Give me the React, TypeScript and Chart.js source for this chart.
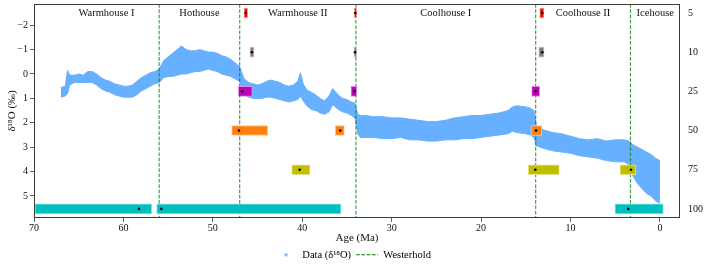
import React, { useEffect, useRef } from 'react';
import { Chart, registerables } from 'chart.js';

Chart.register(...registerables);

// ---- axis ticks / labels ----
const ageTicks = [70, 60, 50, 40, 30, 20, 10, 0];
const d18OTicks = [-2, -1, 0, 1, 2, 3, 4, 5];
const rowLabels = ['5', '10', '25', '50', '75', '100'];

// ---- climate states (Westerhold) ----
const stageNames = ['Warmhouse I', 'Hothouse', 'Warmhouse II', 'Coolhouse I', 'Coolhouse II', 'Icehouse'];
const stageCenters = [61.9, 51.5, 40.5, 23.95, 8.6, 0.53];
const westerhold = [56.0, 47.0, 34.0, 13.9, 3.3];

// ---- δ18O data cloud (read as upper/lower envelope of the point cloud) ----
const envAge = [67.0, 66.5, 66.25, 66.0, 65.5, 65.0, 64.5, 64.0, 63.5, 63.0, 62.5, 62.0, 61.5, 61.0, 60.5, 60.0, 59.5, 59.0, 58.5, 58.0, 57.5, 57.0, 56.5, 56.0, 55.5, 55.0, 54.5, 54.0, 53.5, 53.0, 52.5, 52.0, 51.5, 51.0, 50.5, 50.0, 49.5, 49.0, 48.5, 48.0, 47.5, 47.0, 46.5, 46.0, 45.5, 45.0, 44.5, 44.0, 43.5, 43.0, 42.5, 42.0, 41.5, 41.0, 40.5, 40.2, 39.9, 39.5, 39.0, 38.5, 38.0, 37.5, 37.0, 36.6, 36.0, 35.5, 35.0, 34.5, 34.1, 33.8, 33.5, 33.0, 32.0, 31.0, 30.0, 29.0, 28.0, 27.0, 26.0, 25.0, 24.0, 23.0, 22.0, 21.0, 20.0, 19.0, 18.0, 17.0, 16.5, 16.0, 15.0, 14.5, 14.1, 13.8, 13.0, 12.0, 11.0, 10.0, 9.0, 8.0, 7.0, 6.0, 5.0, 4.0, 3.5, 3.0, 2.5, 2.0, 1.5, 1.0, 0.5, 0.0];
const envTop = [0.55, 0.5, -0.15, 0.05, 0.05, 0.0, 0.05, -0.1, -0.1, 0.0, 0.15, 0.25, 0.3, 0.4, 0.45, 0.5, 0.5, 0.45, 0.3, 0.15, 0.05, -0.05, -0.1, -0.2, -0.55, -0.7, -0.85, -1.0, -1.15, -1.0, -0.95, -0.95, -1.0, -0.95, -0.9, -0.9, -0.85, -0.75, -0.7, -0.6, -0.45, -0.3, 0.2, 0.35, 0.4, 0.45, 0.4, 0.3, 0.25, 0.3, 0.35, 0.45, 0.5, 0.45, 0.3, -0.05, 0.4, 0.65, 0.75, 0.85, 1.0, 1.1, 0.9, 0.6, 0.85, 1.0, 1.05, 1.15, 1.2, 1.65, 1.7, 1.7, 1.75, 1.75, 1.8, 1.8, 1.85, 1.9, 1.95, 1.95, 1.9, 1.8, 1.75, 1.7, 1.7, 1.65, 1.6, 1.5, 1.35, 1.3, 1.35, 1.4, 1.5, 2.15, 2.3, 2.4, 2.45, 2.55, 2.65, 2.7, 2.65, 2.75, 2.7, 2.7, 2.75, 2.9, 3.0, 3.1, 3.2, 3.3, 3.45, 3.55];
const envBottom = [0.95, 0.9, 0.8, 0.45, 0.35, 0.35, 0.35, 0.35, 0.35, 0.45, 0.6, 0.7, 0.75, 0.85, 0.9, 0.95, 0.95, 0.95, 0.85, 0.7, 0.6, 0.5, 0.4, 0.35, 0.15, 0.1, 0.1, 0.05, 0.0, 0.0, -0.05, -0.1, -0.1, -0.15, -0.2, -0.15, -0.1, 0.0, 0.05, 0.1, 0.2, 0.3, 0.85, 0.95, 1.0, 1.0, 1.0, 0.95, 0.95, 1.0, 1.05, 1.1, 1.15, 1.1, 1.05, 0.9, 1.1, 1.3, 1.45, 1.5, 1.6, 1.65, 1.55, 1.25, 1.45, 1.55, 1.6, 1.7, 1.8, 2.45, 2.6, 2.6, 2.6, 2.65, 2.65, 2.6, 2.7, 2.7, 2.75, 2.75, 2.7, 2.7, 2.65, 2.65, 2.6, 2.55, 2.5, 2.45, 2.35, 2.4, 2.45, 2.5, 2.6, 2.95, 3.05, 3.15, 3.2, 3.25, 3.35, 3.4, 3.45, 3.55, 3.6, 3.6, 3.7, 4.2, 4.5, 4.7, 4.9, 5.0, 5.2, 5.3];

// ---- duration bars per row (start Ma, end Ma) and marker ages ----
const bars5 = [[46.52, 46.10], [34.18, 33.91], [13.45, 12.97]];
const dots5 = [46.33, 34.07, 13.16];
const bars10 = [[45.85, 45.40], [34.22, 33.91], [13.56, 12.97]];
const dots10 = [45.63, 34.10, 13.16];
const bars25 = [[47.15, 45.59], [34.55, 33.90], [14.35, 13.45]];
const dots25 = [46.71, 34.18, 13.90];
const bars50 = [[47.89, 43.87], [36.31, 35.30], [14.42, 13.23]];
const dots50 = [47.08, 35.75, 13.87];
const bars75 = [[41.18, 39.14], [14.73, 11.26], [4.47, 2.68]];
const dots75 = [40.29, 13.94, 3.24];
const bars100 = [[69.89, 56.84], [56.28, 35.67], [5.03, -0.37]];
const dots100 = [58.26, 55.76, 3.54];

const rowBars = [bars5, bars10, bars25, bars50, bars75, bars100];
const rowDots = [dots5, dots10, dots25, dots50, dots75, dots100];
const rowColors = ['#ff0000', '#808080', '#bf00bf', '#ff7f0e', '#bfbf00', '#00bfbf'];
const rowEdges = ['#ff9a9a', '#c4c4c4', '#e08ae0', '#ffc48f', '#e3e38a', '#8ae3e3'];

const DATA_BLUE = '#66b0ff';
const FONT = "'Liberation Serif', 'Times New Roman', serif";

export default function App() {
  const ref = useRef<HTMLCanvasElement | null>(null);

  useEffect(() => {
    document.body.style.margin = '0';
    const canvas = ref.current;
    if (!canvas) return;

    const dotImg = document.createElement('canvas');
    dotImg.width = 4;
    dotImg.height = 4;
    const dctx = dotImg.getContext('2d');
    if (dctx) {
      dctx.fillStyle = DATA_BLUE;
      dctx.beginPath();
      dctx.arc(2, 2, 1.6, 0, Math.PI * 2);
      dctx.fill();
    }

    const barData: any[] = [];
    rowBars.forEach((bars, r) => bars.forEach(([a, b]) => barData.push({ x: [a, b], y: r })));
    const dotData: any[] = [];
    rowDots.forEach((dots, r) => dots.forEach((a) => dotData.push({ x: a, y: r })));

    const yMin = -2.87;
    const yMax = 5.9;
    const lineData: any[] = [];
    westerhold.forEach((b) => {
      lineData.push({ x: b, y: yMin });
      lineData.push({ x: b, y: yMax });
      lineData.push({ x: b, y: null });
    });

    const lower = envAge.map((a, i) => ({ x: a, y: envBottom[i] }));
    const upper = envAge.map((a, i) => ({ x: a, y: envTop[i] }));

    const framePlugin = {
      id: 'frameAndStages',
      afterDatasetsDraw(chart: any) {
        const { ctx, chartArea } = chart;
        const xs = chart.scales.x;
        ctx.save();
        ctx.font = `10.5px ${FONT}`;
        ctx.fillStyle = '#111';
        ctx.textAlign = 'center';
        ctx.textBaseline = 'middle';
        stageNames.forEach((name, i) => {
          ctx.fillText(name, xs.getPixelForValue(stageCenters[i]), chartArea.top + 9);
        });
        ctx.strokeStyle = '#3a3a3a';
        ctx.lineWidth = 1;
        const l = Math.round(chartArea.left) + 0.5;
        const t = Math.round(chartArea.top) + 0.5;
        const r = Math.round(chartArea.right) - 0.5;
        const b = Math.round(chartArea.bottom) - 0.5;
        ctx.strokeRect(l, t, r - l, b - t);
        ctx.restore();
      },
    };

    const tickGrid = {
      display: true,
      drawOnChartArea: false,
      drawTicks: true,
      tickLength: 4,
      tickColor: '#3a3a3a',
      tickWidth: 0.8,
      color: '#3a3a3a',
    };

    const chart = new Chart(canvas, {
      type: 'scatter',
      data: {
        datasets: [
          {
            type: 'scatter',
            label: 'markers',
            data: dotData,
            xAxisID: 'x',
            yAxisID: 'y2',
            pointRadius: 1.3,
            pointBackgroundColor: '#000',
            pointBorderWidth: 0,
            order: 0,
          } as any,
          {
            type: 'bar',
            label: 'bars',
            indexAxis: 'y',
            data: barData,
            xAxisID: 'x',
            yAxisID: 'y2',
            backgroundColor: (c: any) => rowColors[c.raw ? c.raw.y : 0],
            borderColor: (c: any) => rowEdges[c.raw ? c.raw.y : 0],
            borderWidth: 1,
            borderSkipped: false,
            barThickness: 10,
            grouped: false,
            order: 1,
          } as any,
          {
            type: 'line',
            label: 'Westerhold',
            data: lineData,
            xAxisID: 'x',
            yAxisID: 'y',
            borderColor: 'rgba(0,128,0,0.72)',
            borderWidth: 1.2,
            borderDash: [3.7, 1.6],
            pointRadius: 0,
            showLine: true,
            spanGaps: false,
            fill: false,
            order: 2,
          } as any,
          {
            type: 'line',
            label: 'lower',
            data: lower,
            xAxisID: 'x',
            yAxisID: 'y',
            borderColor: DATA_BLUE,
            borderWidth: 1,
            pointRadius: 0,
            showLine: true,
            fill: false,
            tension: 0,
            order: 3,
          } as any,
          {
            type: 'line',
            label: 'Data (δ¹⁸O)',
            data: upper,
            xAxisID: 'x',
            yAxisID: 'y',
            borderColor: DATA_BLUE,
            backgroundColor: DATA_BLUE,
            borderWidth: 1,
            pointRadius: 0,
            showLine: true,
            fill: '-1',
            tension: 0,
            order: 4,
          } as any,
        ],
      },
      options: {
        animation: false,
        responsive: false,
        devicePixelRatio: 1,
        events: [],
        layout: { padding: { top: 4, left: 0, right: 0, bottom: 0 } },
        scales: {
          x: {
            type: 'linear',
            position: 'bottom',
            min: -2.24,
            max: 70,
            reverse: true,
            offset: false,
            beginAtZero: false,
            grid: tickGrid,
            border: { display: false },
            ticks: {
              font: { size: 10, family: FONT },
              color: '#111',
              padding: 0,
              maxRotation: 0,
              autoSkip: false,
            },
            title: {
              display: true,
              text: 'Age (Ma)',
              font: { size: 11, family: FONT },
              color: '#111',
              padding: { top: 0, bottom: 0 },
            },
            afterBuildTicks: (s: any) => {
              s.ticks = ageTicks.map((v) => ({ value: v }));
            },
            afterFit: (s: any) => {
              s.height = 26.6;
              s.paddingLeft = 0;
              s.paddingRight = 0;
            },
          } as any,
          y: {
            type: 'linear',
            position: 'left',
            min: yMin,
            max: yMax,
            reverse: true,
            grid: tickGrid,
            border: { display: false },
            ticks: {
              font: { size: 10, family: FONT },
              color: '#111',
              padding: 2,
              callback: (v: any) => (v < 0 ? '\u2212' + Math.abs(v) : String(v)),
            },
            title: {
              display: true,
              text: 'δ¹⁸O (‰)',
              font: { size: 11, family: FONT },
              color: '#111',
              padding: { top: 6, bottom: 0 },
            },
            afterBuildTicks: (s: any) => {
              s.ticks = d18OTicks.map((v) => ({ value: v }));
            },
            afterFit: (s: any) => {
              s.width = 34;
              s.paddingTop = 0;
              s.paddingBottom = 0;
            },
          } as any,
          y2: {
            type: 'linear',
            position: 'right',
            min: -0.23,
            max: 5.23,
            reverse: true,
            offset: false,
            beginAtZero: false,
            grid: { display: false, drawTicks: false, drawOnChartArea: false },
            border: { display: false },
            ticks: {
              font: { size: 10, family: FONT },
              color: '#111',
              padding: 8,
              callback: (v: any) => rowLabels[v] ?? '',
            },
            afterBuildTicks: (s: any) => {
              s.ticks = rowLabels.map((_, i) => ({ value: i }));
            },
            afterFit: (s: any) => {
              s.width = 26;
              s.paddingTop = 0;
              s.paddingBottom = 0;
            },
          } as any,
        },
        plugins: {
          tooltip: { enabled: false },
          legend: {
            display: true,
            position: 'bottom',
            labels: {
              usePointStyle: true,
              pointStyleWidth: 22,
              padding: 5,
              color: '#111',
              font: { size: 10.5, family: FONT },
              generateLabels: () => [
                {
                  text: 'Data (δ¹⁸O)',
                  pointStyle: dotImg,
                  fillStyle: DATA_BLUE,
                  strokeStyle: DATA_BLUE,
                  lineWidth: 0,
                  hidden: false,
                  datasetIndex: 4,
                } as any,
                {
                  text: 'Westerhold',
                  pointStyle: 'line',
                  fillStyle: '#008000',
                  strokeStyle: '#008000',
                  lineWidth: 1.2,
                  lineDash: [3.7, 1.6],
                  hidden: false,
                  datasetIndex: 2,
                } as any,
              ],
            },
          },
        },
      } as any,
      plugins: [framePlugin],
    });

    return () => chart.destroy();
  }, []);

  return (
    <div style={{ width: 706, height: 270 }}>
      <canvas ref={ref} width={706} height={270} style={{ display: 'block' }} />
    </div>
  );
}
